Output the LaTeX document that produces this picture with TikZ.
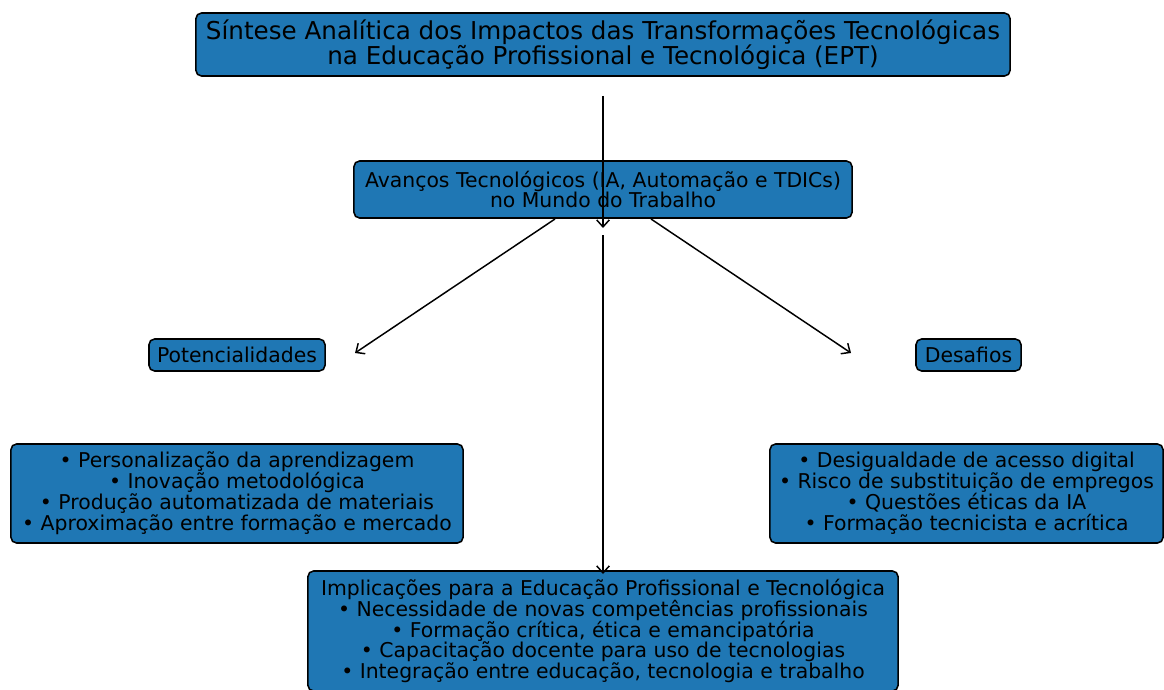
\documentclass[tikz,border=0pt]{standalone}
\usepackage{fontspec}
\setmainfont{DejaVu Sans}
\usetikzlibrary{arrows.meta}
\definecolor{azul}{HTML}{1F77B4}
\newcommand{\fonttitulo}{\fontsize{17.5pt}{17.8pt}\selectfont}
\newcommand{\fontcaixa}{\fontsize{14.5pt}{14.9pt}\selectfont}
\tikzset{
  caixa/.style={draw=black, fill=azul, line width=1.1pt, rounded corners=4pt,
    align=center, inner sep=0pt, font=\fontcaixa},
  seta/.style={draw=black, line width=1.05pt, -{Straight Barb[length=5pt,width=9pt]}}
}
\begin{document}
\begin{tikzpicture}[x=0.025cm, y=-0.025cm]
\useasboundingbox (0,0) rectangle (1164,690);
% caixas
\node[caixa, font=\fonttitulo, minimum width=20.35cm, minimum height=1.575cm] (titulo) at (603,44.5)
  {Síntese Analítica dos Impactos das Transformações Tecnológicas\\na Educação Profissional e Tecnológica (EPT)};
\node[caixa, minimum width=12.45cm, minimum height=1.425cm] (avancos) at (603,189.5)
  {Avanços Tecnológicos (IA, Automação e TDICs)\\no Mundo do Trabalho};
\node[caixa, minimum width=4.4cm, minimum height=0.8cm] (potenc) at (237,355) {Potencialidades};
\node[caixa, minimum width=2.625cm, minimum height=0.8cm] (desafios) at (968.5,355) {Desafios};
\node[caixa, minimum width=11.3cm, minimum height=2.475cm] (listapot) at (237,493.5)
  {• Personalização da aprendizagem\\• Inovação metodológica\\• Produção automatizada de materiais\\• Aproximação entre formação e mercado};
\node[caixa, minimum width=9.825cm, minimum height=2.475cm] (listades) at (966.5,493.5)
  {• Desigualdade de acesso digital\\• Risco de substituição de empregos\\• Questões éticas da IA\\• Formação tecnicista e acrítica};
\node[caixa, minimum width=14.75cm, minimum height=3cm] (implic) at (603,631)
  {Implicações para a Educação Profissional e Tecnológica\\• Necessidade de novas competências profissionais\\• Formação crítica, ética e emancipatória\\• Capacitação docente para uso de tecnologias\\• Integração entre educação, tecnologia e trabalho};
% pontos das setas
\coordinate (t1) at (603,96);
\coordinate (t2) at (603,228);
\coordinate (t3) at (603,235);
\coordinate (t4) at (603,574);
\coordinate (e1) at (555,219);
\coordinate (e2) at (355,353);
\coordinate (d1) at (651,219);
\coordinate (d2) at (851,353);
% setas
\draw[seta] (t1) to (t2);
\draw[seta] (t3) to (t4);
\draw[seta] (e1) to (e2);
\draw[seta] (d1) to (d2);
\end{tikzpicture}
\end{document}
